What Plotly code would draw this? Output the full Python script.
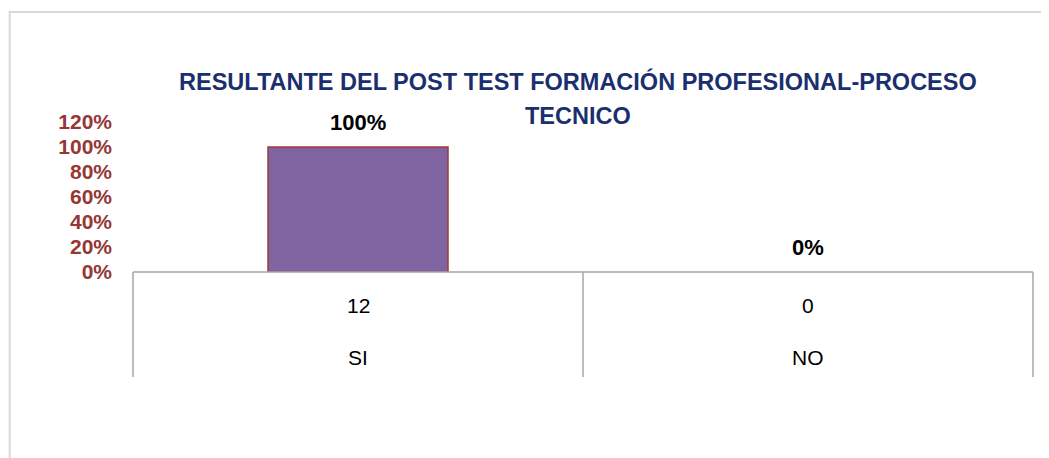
import plotly.graph_objects as go

# datos del gráfico
categorias = ["SI", "NO"]
cantidades = [12, 0]
porcentajes = [1.0, 0.0]
etiquetas = ["100%", "0%"]
titulo_1 = "RESULTANTE DEL POST TEST FORMACIÓN PROFESIONAL-PROCESO"
titulo_2 = "TECNICO"

FONT = "Liberation Sans"
GRIS = "#A6A6A6"

fig = go.Figure()
fig.add_trace(go.Bar(
    x=categorias, y=porcentajes, width=0.40,
    marker=dict(color="#8064A2",
                line=dict(color="#9E3A38", width=[1.5 if v > 0 else 0 for v in porcentajes])),
    hoverinfo="skip",
))

# etiquetas de datos sobre las barras
for c, v, t in zip(categorias, porcentajes, etiquetas):
    fig.add_annotation(x=c, y=v, text=t, showarrow=False, yshift=25, yanchor="middle",
                       font=dict(family=FONT, size=22, color="black", weight="bold"))

# tabla de categorías bajo el eje
for c, n in zip(categorias, cantidades):
    fig.add_annotation(x=c, y=-0.22, yref="paper", text=str(n), showarrow=False, yanchor="middle",
                       font=dict(family=FONT, size=21, color="black"))
    fig.add_annotation(x=c, y=-0.573, yref="paper", text=c, showarrow=False, yanchor="middle",
                       font=dict(family=FONT, size=21, color="black"))

shapes = [dict(type="line", xref="paper", yref="paper", x0=0, x1=1, y0=0, y1=0,
               line=dict(color=GRIS, width=1.5))]
for xp in [0, 0.5, 1]:
    shapes.append(dict(type="line", xref="paper", yref="paper", x0=xp, x1=xp, y0=0, y1=-0.7,
                       line=dict(color=GRIS, width=1.5)))
# borde del área del gráfico
shapes.append(dict(type="rect", xref="paper", yref="paper", x0=-0.137, x1=1.2, y0=-2, y1=1.7333,
                   line=dict(color="#D9D9D9", width=2), layer="below"))

# título en dos líneas
fig.add_annotation(x=0.494, y=1.2733, xref="paper", yref="paper", text=titulo_1, showarrow=False,
                   yanchor="middle",
                   font=dict(family=FONT, size=23.5, color="#1B2F6E", weight="bold"))
fig.add_annotation(x=0.494, y=1.04, xref="paper", yref="paper", text=titulo_2, showarrow=False,
                   yanchor="middle",
                   font=dict(family=FONT, size=23.5, color="#1B2F6E", weight="bold"))

fig.update_layout(
    width=1049, height=458,
    margin=dict(l=125, r=24, t=114, b=194),
    paper_bgcolor="white", plot_bgcolor="white",
    showlegend=False, shapes=shapes,
    xaxis=dict(showticklabels=False, showgrid=False, zeroline=False, showline=False, ticks=""),
    yaxis=dict(range=[0, 1.2], dtick=0.2, tickformat=".0%", showgrid=False, zeroline=False,
               showline=False, ticklabelstandoff=20,
               tickfont=dict(family=FONT, size=21, color="#953735", weight="bold")),
)

fig.write_html("out.html")
